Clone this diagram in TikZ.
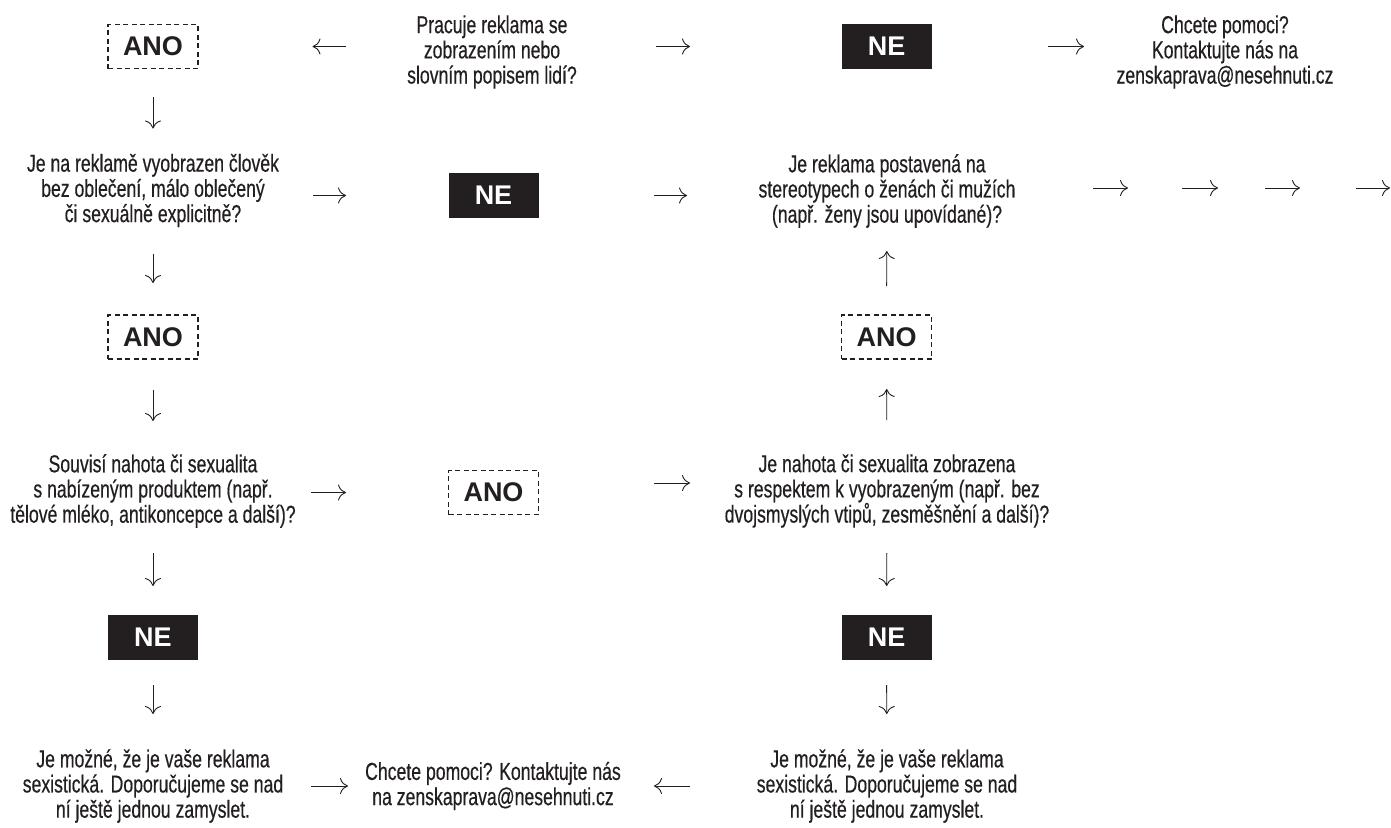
\documentclass[tikz,border=0pt]{standalone}
\usepackage{fontspec}
\setmainfont{Liberation Sans}[FakeStretch=0.72,FakeBold=0.4]
\newfontfamily\boxfont{Liberation Sans}
\usetikzlibrary{arrows.meta}
\definecolor{ink}{HTML}{231F20}

\begin{document}
\begin{tikzpicture}[x=1pt,y=-1pt,
        ask/.style={text=ink,align=center,inner sep=0pt,font=\fontsize{24.5}{25.2}\selectfont},
        ano/.style={draw=ink,line width=1.2pt,dash pattern=on 5pt off 3.5pt,minimum width=90pt,minimum height=44pt,inner sep=0pt,text=ink,font=\boxfont\bfseries\fontsize{27}{30}\selectfont},
        ne/.style={fill=ink,minimum width=90pt,minimum height=45pt,inner sep=0pt,text=white,font=\boxfont\bfseries\fontsize{27}{30}\selectfont},
        arr/.style={draw=ink,line width=0.9pt,-{To[length=8pt,width=16pt]}}]
            \useasboundingbox[fill=white] (0,0) rectangle (1391,827);

            \node[ano] (ano1) at (153,46.5) {ANO};
            \node[ask] (q1) at (492,52) {Pracuje reklama se\\zobrazením nebo\\slovním popisem lidí?};
            \node[ne] (ne1) at (886.5,46.5) {NE};
            \node[ask] (help1) at (1225,52) {Chcete pomoci?\\Kontaktujte nás na\\zenskaprava@nesehnuti.cz};

            \node[ask] (q2) at (153,190.5) {Je na reklamě vyobrazen člověk\\bez oblečení, málo oblečený\\či sexuálně explicitně?};
            \node[ne] (ne2) at (493.5,195.5) {NE};
            \node[ask] (qst) at (887,191) {Je reklama postavená na\\stereotypech o ženách či mužích\\(např. ženy jsou upovídané)?};

            \node[ano] (ano2) at (153,337) {ANO};
            \node[ano] (ano3) at (886.5,337) {ANO};

            \node[ask] (q3) at (153,491) {Souvisí nahota či sexualita\\s nabízeným produktem (např.\\tělové mléko, antikoncepce a další)?};
            \node[ano] (ano4) at (493.5,492.5) {ANO};
            \node[ask] (q4) at (887,491) {Je nahota či sexualita zobrazena\\s respektem k vyobrazeným (např. bez\\dvojsmyslých vtipů, zesměšnění a další)?};

            \node[ne] (ne3) at (153,637.5) {NE};
            \node[ne] (ne4) at (886.5,637.5) {NE};

            \node[ask] (q5) at (153,786) {Je možné, že je vaše reklama\\sexistická. Doporučujeme se nad\\ní ještě jednou zamyslet.};
            \node[ask] (help2) at (493,786) {Chcete pomoci? Kontaktujte nás\\na zenskaprava@nesehnuti.cz};
            \node[ask] (q6) at (887,786) {Je možné, že je vaše reklama\\sexistická. Doporučujeme se nad\\ní ještě jednou zamyslet.};

            \draw[arr,shorten <=146pt,shorten >=159.5pt] (q1.center |- ano1.center) -- (ano1.center);
            \draw[arr,shorten <=164pt,shorten >=196.5pt] (q1.center |- ne1.center) -- (ne1.center);
            \draw[arr,shorten <=161.5pt,shorten >=141pt] (ne1.center) -- (help1.center |- ne1.center);

            \draw[arr,shorten <=160pt,shorten >=147.5pt] (q2.center |- ne2.center) -- (ne2.center);
            \draw[arr,shorten <=160.5pt,shorten >=200pt] (ne2.center) -- (qst.center |- ne2.center);
            \foreach \i/\a/\b in {1/1093/1128,2/1182/1218,3/1265/1300,4/1356/1390} {
                \coordinate (s\i) at (\a,188);
                \coordinate (t\i) at (\b,188);
                \draw[arr] (s\i) -- (t\i);
            }

            \draw[arr,shorten <=158pt,shorten >=147.5pt] (q3.center |- ano4.center) -- (ano4.center);
            \draw[arr,shorten <=160.5pt,shorten >=197pt] ([yshift=9.5pt]ano4.center) -- ([yshift=9.5pt]ano4.center -| q4.center);

            \draw[arr,shorten <=158pt,shorten >=145pt] (q5.center) -- (help2.center);
            \draw[arr,shorten <=197pt,shorten >=161pt] (q6.center) -- (help2.center);

            \draw[arr,shorten <=50.5pt,shorten >=62pt] (ano1.center) -- (q2.center);
            \draw[arr,shorten <=63pt,shorten >=54pt] (q2.center) -- (ano2.center);
            \draw[arr,shorten <=53pt,shorten >=70pt] (ano2.center) -- (q3.center);
            \draw[arr,shorten <=62pt,shorten >=51.5pt] (q3.center) -- (ne3.center);
            \draw[arr,shorten <=47.5pt,shorten >=72pt] (ne3.center) -- (q5.center);

            \draw[arr,shorten <=71pt,shorten >=52pt] (q4.center) -- (ano3.center);
            \draw[arr,shorten <=51pt,shorten >=60pt] (ano3.center) -- (qst.center);
            \draw[arr,shorten <=62pt,shorten >=51.5pt] (q4.center) -- (ne4.center);
            \draw[arr,shorten <=47.5pt,shorten >=72pt] (ne4.center) -- (q6.center);
\end{tikzpicture}
\end{document}
